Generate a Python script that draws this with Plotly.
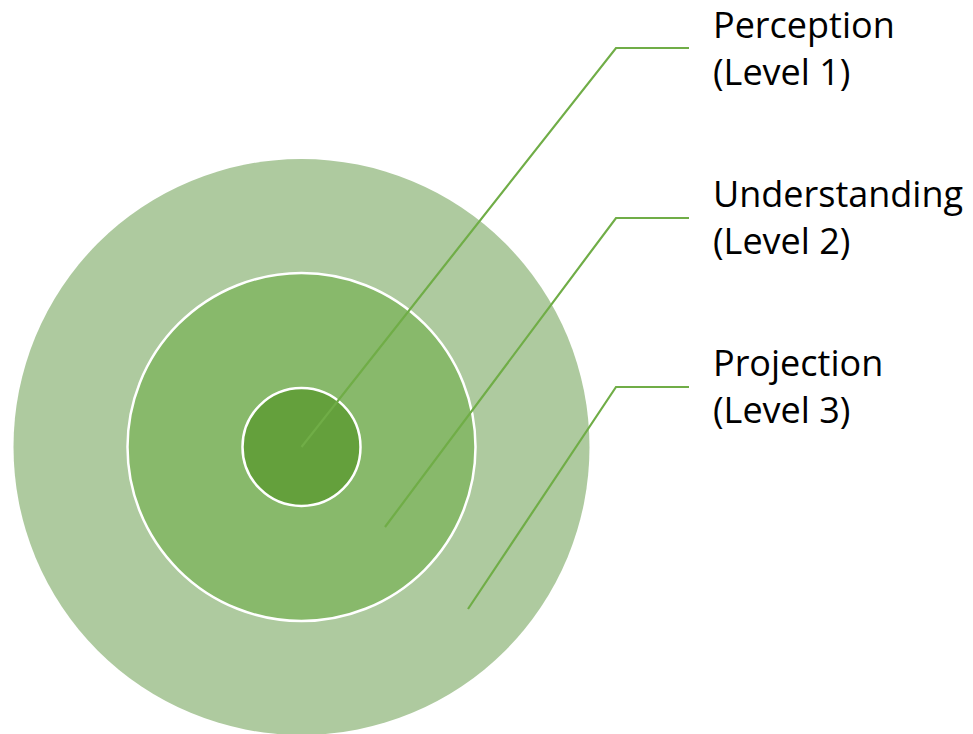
import plotly.graph_objects as go

# Nested circles (outer -> inner), radii in pixels of the diagram
levels = ["Projection", "Understanding", "Perception"]
level_nums = [3, 2, 1]
radii = [288, 174, 59]
fills = ["#AECA9F", "#88B96B", "#64A03C"]
borders = [0, 2.5, 2.5]

center_x = 301.5
center_y = 447

# Label leader lines: anchor inside circle -> elbow -> end
anchor_x = [468, 385, 301.5]
anchor_y = [609, 527, 447]
elbow_x = [616, 616, 616]
label_y = [387, 218, 48]
line_end_x = 689
text_x = 711
text_center_y = [386, 217, 48]

W, H = 973, 734
fig = go.Figure()

shapes = []
for r, c, b in zip(radii, fills, borders):
    shapes.append(dict(
        type="circle", xref="x", yref="y",
        x0=center_x - r, x1=center_x + r, y0=center_y - r, y1=center_y + r,
        fillcolor=c, line=dict(color="white", width=b) if b else dict(width=0),
        layer="below",
    ))

for i in range(len(levels)):
    fig.add_trace(go.Scatter(
        x=[anchor_x[i], elbow_x[i], line_end_x],
        y=[anchor_y[i], label_y[i], label_y[i]],
        mode="lines", line=dict(color="#70AD47", width=2.2),
        hoverinfo="skip", showlegend=False,
    ))

annotations = []
for i, name in enumerate(levels):
    annotations.append(dict(
        x=text_x, y=text_center_y[i], xref="x", yref="y",
        text=f"{name}<br>(Level {level_nums[i]})",
        showarrow=False, xanchor="left", yanchor="middle", align="left",
        font=dict(family="Open Sans, sans-serif", size=36, color="#000000"),
    ))

fig.update_layout(
    width=W, height=H,
    margin=dict(l=0, r=0, t=0, b=0),
    paper_bgcolor="white", plot_bgcolor="white",
    shapes=shapes, annotations=annotations,
    xaxis=dict(range=[0, W], visible=False, fixedrange=True),
    yaxis=dict(range=[H, 0], visible=False, fixedrange=True),
    showlegend=False,
)

fig.write_html("out.html", post_script="document.body.style.margin='0';",
               config={"displayModeBar": False})
